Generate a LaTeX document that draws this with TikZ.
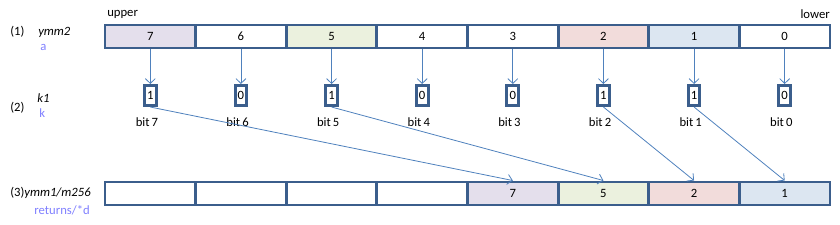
\documentclass[tikz,border=0pt]{standalone}
\usepackage{fontspec}
\setmainfont{Carlito}
\usetikzlibrary{positioning,arrows.meta}
\definecolor{cFrame}{HTML}{3B5E8C}
\definecolor{cArrow}{HTML}{4F81BD}
\definecolor{cLav}{HTML}{E4DFEC}
\definecolor{cGreen}{HTML}{EBF1DE}
\definecolor{cRose}{HTML}{F2DCDB}
\definecolor{cSky}{HTML}{DCE6F1}
\definecolor{cHint}{HTML}{7F7FFF}
\tikzset{
  txt/.style={font=\fontsize{9.5}{11}\selectfont,inner sep=0pt},
  cell/.style={txt,draw=cFrame,line width=2.2pt,minimum width=67.97pt,minimum height=17.25pt},
  bitbox/.style={txt,draw=cFrame,line width=2.3pt,fill=white,minimum width=8.8pt,minimum height=15pt},
  bitlbl/.style={txt,below=8pt,xshift=-2.5pt},
  hint/.style={txt,text=cHint},
  arr/.style={-{Straight Barb[length=3.6pt,width=7.5pt]},draw=cArrow,line width=0.6pt}}

\begin{document}
\begin{tikzpicture}[x=0.75pt,y=-0.75pt]
\useasboundingbox (0,0) rectangle (840,225);
% row labels
\node[txt,anchor=west] (n1) at (10,32) {(1)};
\node[txt,anchor=west] (r1) at (38,32) {\itshape ymm2};
\node[hint,anchor=west] (h1) at (40,47) {a};
\node[txt,anchor=west] (n2) at (10,108) {(2)};
\node[txt,anchor=west] (r2) at (37,98) {\itshape k1};
\node[hint,anchor=west] (h2) at (39,113) {k};
\node[txt,anchor=west] (r3) at (10,193) {(3)\itshape ymm1/m256};
\node[hint,anchor=east] (h3) at (90,210) {returns/*d};
\node[txt,anchor=west] (up) at (107,14) {upper};
\node[txt,anchor=east] (lo) at (830,14) {lower};
% source register and mask bits
\foreach \i/\fc/\v in {7/cLav/1,6/white/0,5/cGreen/1,4/white/0,3/white/0,2/cRose/1,1/cSky/1,0/white/0}{
  \pgfmathsetmacro{\xx}{105+90.625*(7.5-\i)}
  \node[cell,fill=\fc] (t\i) at (\xx,36.5) {\i};
  \node[bitbox] (b\i) at (\xx,95.5) {\v};
  \node[bitlbl] (l\i) at (b\i.south) {bit\,\i};
  \draw[arr] (t\i) -- (b\i);
}
% destination register
\foreach \p/\fc/\v in {7/white/,6/white/,5/white/,4/white/,3/cLav/7,2/cGreen/5,1/cRose/2,0/cSky/1}{
  \pgfmathsetmacro{\xx}{105+90.625*(7.5-\p)}
  \node[cell,fill=\fc] (o\p) at (\xx,193.5) {\v};
}
\draw[arr] (b7.south) -- (o3.north);
\draw[arr] (b5.south) -- (o2.north);
\draw[arr] (b2.south) -- (o1.north);
\draw[arr] (b1.south) -- (o0.north);
\end{tikzpicture}
\end{document}
